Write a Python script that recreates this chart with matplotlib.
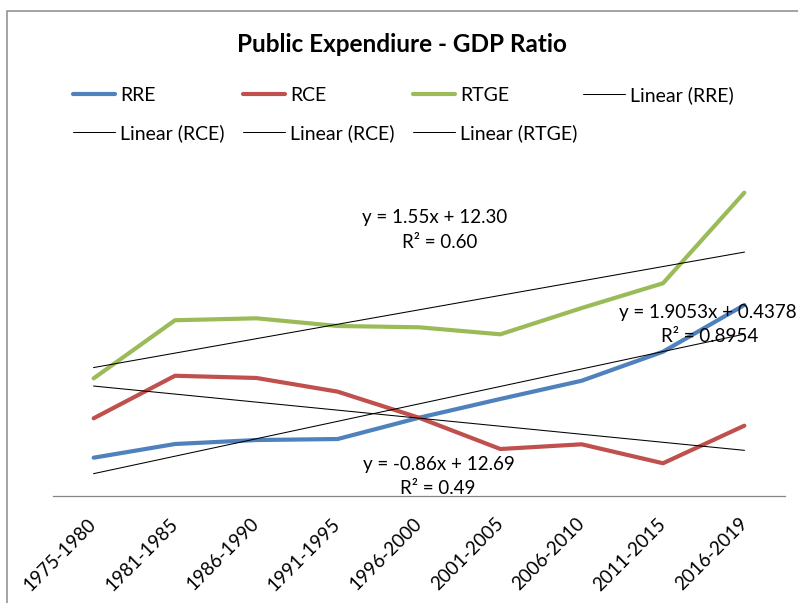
import matplotlib
matplotlib.use("Agg")
import matplotlib.pyplot as plt
from matplotlib.lines import Line2D
from matplotlib.patches import Rectangle
import numpy as np

plt.rcParams['font.family'] = ['Lato', 'DejaVu Sans']

# ---- data ----
categories = ["1975-1980", "1981-1985", "1986-1990", "1991-1995", "1996-2000",
              "2001-2005", "2006-2010", "2011-2015", "2016-2019"]
rre = [4.14, 5.62, 6.05, 6.16, 8.46, 10.49, 12.46, 15.6, 20.65]
rce = [8.40, 13.0, 12.76, 11.28, 8.46, 5.08, 5.59, 3.54, 7.6]
rtge = [12.72, 19.0, 19.21, 18.38, 18.24, 17.48, 20.32, 23.0, 32.79]
series_names = ["RRE", "RCE", "RTGE"]
trend_names = ["Linear (RRE)", "Linear (RCE)", "Linear (RCE)", "Linear (RTGE)"]
eq_rtge = ["y = 1.55x + 12.30", "R² = 0.60"]
eq_rre = ["y = 1.9053x + 0.4378", "R² = 0.8954"]
eq_rce = ["y = -0.86x + 12.69", "R² = 0.49"]
title = "Public Expendiure - GDP Ratio"

colors = ["#4F81BD", "#C0504D", "#9BBB59"]

W, H = 798, 603
fig = plt.figure(figsize=(W / 100, H / 100), dpi=100)

def fx(px):
    return px / W

def fy(py):
    return 1 - py / H

# outer chart border (cropped on right/bottom)
fig.add_artist(Rectangle((fx(6.7), fy(700)), fx(900), fy(10.7) - fy(700),
                         transform=fig.transFigure, fill=False,
                         edgecolor="#8c8c8c", lw=1.1))

ax_left, ax_right = 53, 785
ax_bottom, ax_top = 496, 172.25
ax = fig.add_axes([fx(ax_left), fy(ax_bottom), fx(ax_right - ax_left),
                   (ax_bottom - ax_top) / H])
ax.set_xlim(-0.5, len(categories) - 0.5)
ax.set_ylim(0, 35)
for s in ["top", "right", "left"]:
    ax.spines[s].set_visible(False)
ax.spines["bottom"].set_color("#868686")
ax.spines["bottom"].set_linewidth(0.9)
ax.set_yticks([])
ax.patch.set_alpha(0)

x = np.arange(len(categories))
for vals, c in zip([rre, rce, rtge], colors):
    ax.plot(x, vals, color=c, lw=3.0, solid_capstyle="round", zorder=2)

# linear trendlines
xs = x + 1
for vals in [rre, rce, rtge]:
    m, b = np.polyfit(xs, vals, 1)
    ax.plot([x[0], x[-1]], [m * xs[0] + b, m * xs[-1] + b], color="black",
            lw=0.75, zorder=3)

ax.set_xticks(x)
ax.set_xticklabels(categories, rotation=45, ha="right", va="center",
                   rotation_mode="anchor", fontsize=13.5, color="black")
ax.tick_params(axis="x", length=0, pad=18)

# title
fig.text(fx(402), fy(44), title, ha="center", va="center", fontsize=17.5,
         fontweight="bold")

# legend (manual, uniform column spacing)
leg_cols = [73, 243, 413, 583]
row_y = [94, 132]
entries = [(series_names[0], colors[0], 3.0), (series_names[1], colors[1], 3.0),
           (series_names[2], colors[2], 3.0), (trend_names[0], "black", 0.75),
           (trend_names[1], "black", 0.75), (trend_names[2], "black", 0.75),
           (trend_names[3], "black", 0.75)]
for i, (lab, c, lw) in enumerate(entries):
    cx = leg_cols[i % 4]
    cy = row_y[i // 4]
    fig.add_artist(Line2D([fx(cx), fx(cx + 42)], [fy(cy), fy(cy)],
                          transform=fig.transFigure, color=c, lw=lw,
                          solid_capstyle="round"))
    fig.text(fx(cx + 47), fy(cy), lab, ha="left", va="center_baseline",
             fontsize=14)

# trendline equations
fs = 13.5
fig.text(fx(435), fy(216), eq_rtge[0], ha="center", va="center_baseline", fontsize=fs)
fig.text(fx(440), fy(241), eq_rtge[1], ha="center", va="center_baseline", fontsize=fs)
fig.text(fx(619), fy(311), eq_rre[0], ha="left", va="center_baseline", fontsize=fs)
fig.text(fx(710), fy(335), eq_rre[1], ha="center", va="center_baseline", fontsize=fs)
fig.text(fx(439), fy(463), eq_rce[0], ha="center", va="center_baseline", fontsize=fs)
fig.text(fx(438), fy(487), eq_rce[1], ha="center", va="center_baseline", fontsize=fs)

fig.savefig("out.png", dpi=100)
